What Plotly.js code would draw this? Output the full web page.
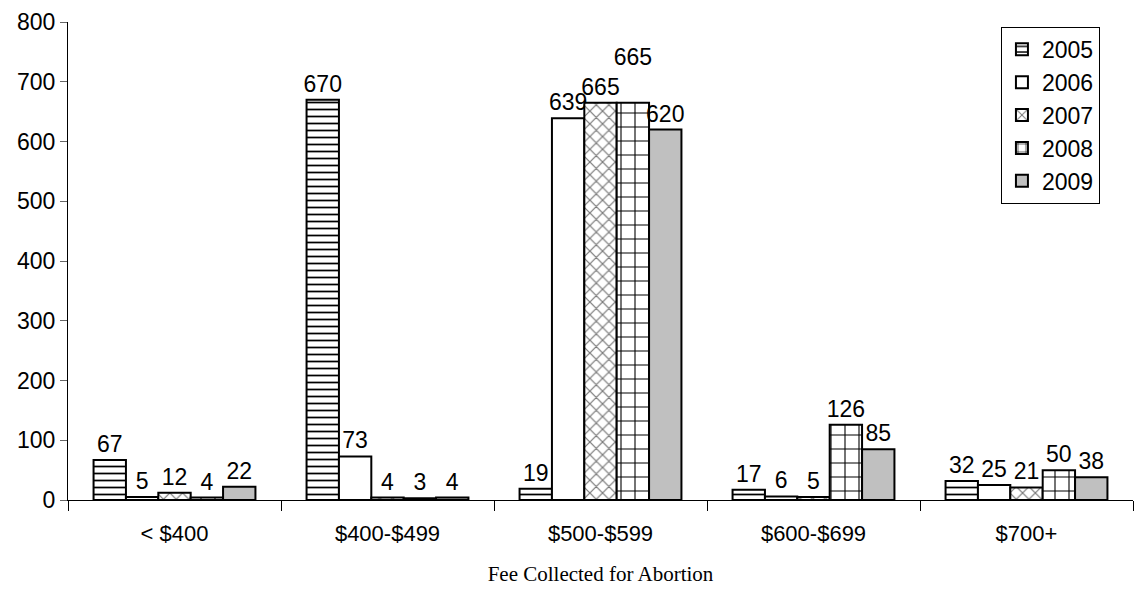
<!DOCTYPE html>
<html>
<head>
<meta charset="utf-8">
<script src="https://cdn.plot.ly/plotly-3.0.1.min.js"></script>
<style>html,body{margin:0;padding:0;background:#fff;}#chart{width:1135px;height:592px;}</style>
</head>
<body>
<div id="chart"></div>
<script>
const categories = ["< $400", "$400-$499", "$500-$599", "$600-$699", "$700+"];
const years = ["2005", "2006", "2007", "2008", "2009"];
const v2005 = [67, 670, 19, 17, 32];
const v2006 = [5, 73, 639, 6, 25];
const v2007 = [12, 4, 665, 5, 21];
const v2008 = [4, 3, 665, 126, 50];
const v2009 = [22, 4, 620, 85, 38];
const seriesValues = [v2005, v2006, v2007, v2008, v2009];
const yTicks = [0, 100, 200, 300, 400, 500, 600, 700, 800];
// labels lifted one line to avoid overlap (as in the reference): [series index, category index]
const liftedLabels = [[3, 2]];

const styles = [
  {color: "#ffffff", pattern: {shape: "-", fgcolor: "#000000", bgcolor: "#ffffff", size: 7, solidity: 0.25}},
  {color: "#ffffff", pattern: {shape: ""}},
  {color: "#ffffff", pattern: {shape: "x", fgcolor: "#777777", bgcolor: "#ffffff", size: 9, solidity: 0.25}},
  {color: "#ffffff", pattern: {shape: "+", fgcolor: "#000000", bgcolor: "#ffffff", size: 14, solidity: 0.15}},
  {color: "#c0c0c0", pattern: {shape: ""}}
];

const font = "Liberation Sans, Arial, sans-serif";
const traces = years.map((y, i) => ({
  type: "bar",
  name: y,
  x: categories,
  y: seriesValues[i],
  text: seriesValues[i].map((v, j) =>
    liftedLabels.some(p => p[0] === i && p[1] === j) ? String(v) + "<br> " : String(v)),
  textposition: "outside",
  constraintext: "none",
  cliponaxis: false,
  textfont: {family: font, size: 23, color: "#000"},
  marker: {color: styles[i].color, pattern: styles[i].pattern, line: {color: "#000", width: 2}}
}));

const layout = {
  width: 1135, height: 592,
  margin: {l: 68, r: 2, t: 22, b: 92},
  paper_bgcolor: "#fff", plot_bgcolor: "#fff",
  barmode: "group", bargap: 0.24, bargroupgap: 0,
  showlegend: true,
  legend: {
    x: 0.876, y: 0.99, xanchor: "left", yanchor: "top",
    bordercolor: "#000", borderwidth: 1, bgcolor: "#fff",
    font: {family: font, size: 23, color: "#000"},
    tracegroupgap: 0, itemwidth: 30
  },
  xaxis: {
    type: "category",
    showline: true, linecolor: "#000", linewidth: 1,
    ticks: "outside", tickson: "boundaries", ticklen: 10, tickcolor: "#000",
    tickfont: {family: font, size: 22, color: "#000"},
    ticklabelstandoff: 14,
    showgrid: false, zeroline: false,
    title: {text: "Fee Collected for Abortion", font: {family: "Liberation Serif, Times New Roman, serif", size: 21, color: "#000"}, standoff: 20}
  },
  yaxis: {
    range: [0, 800], tickvals: yTicks,
    showline: true, linecolor: "#000", linewidth: 1,
    ticks: "outside", ticklen: 7, tickcolor: "#666",
    tickfont: {family: font, size: 23, color: "#000"},
    showgrid: false, zeroline: false
  }
};

Plotly.newPlot("chart", traces, layout, {displayModeBar: false, staticPlot: true});
</script>
</body>
</html>
